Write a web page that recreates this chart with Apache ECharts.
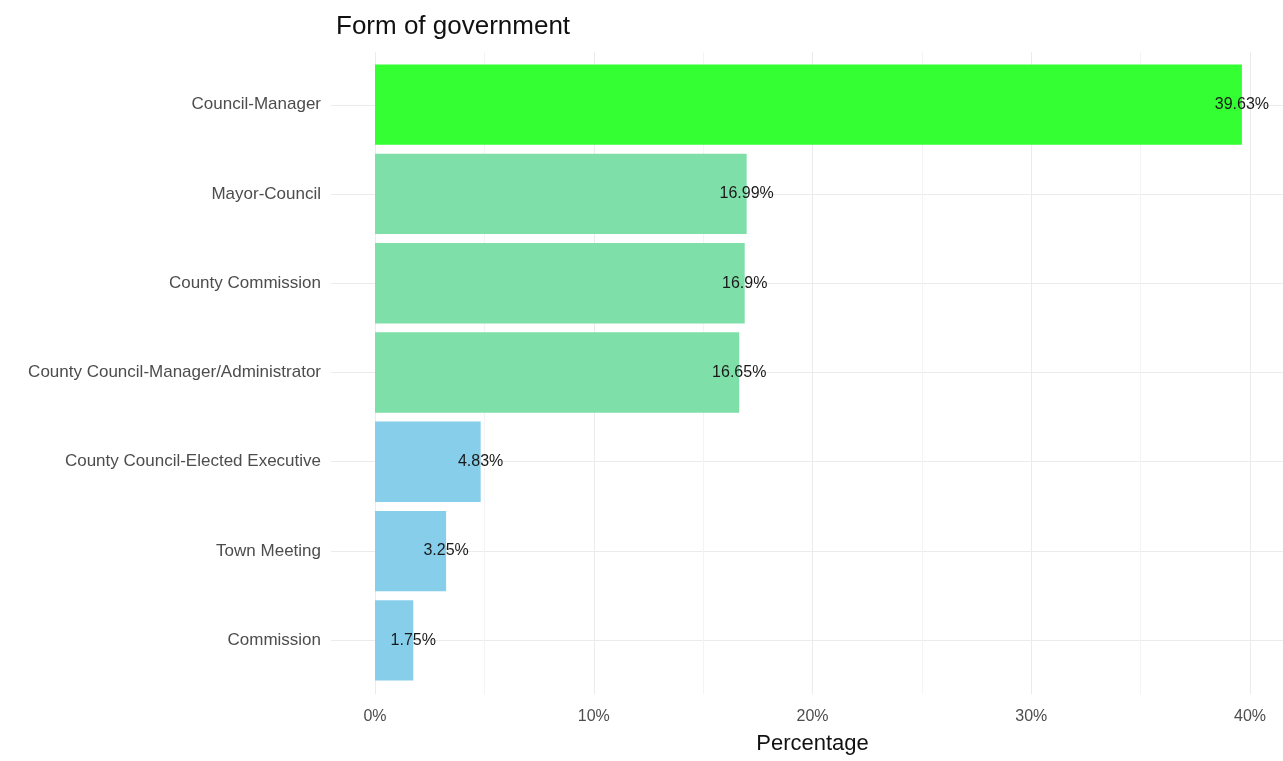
<!DOCTYPE html>
<html>
<head>
<meta charset="utf-8">
<title>Form of government</title>
<script src="https://cdn.jsdelivr.net/npm/echarts@6/dist/echarts.min.js"></script>
<style>
  html, body { margin: 0; padding: 0; background: #fff; }
  #chart { width: 1283px; height: 761px; }
</style>
</head>
<body>
<div id="chart"></div>
<script>
// categories listed bottom to top (echarts category y axis starts at the bottom)
const categories = [
  "Commission",
  "Town Meeting",
  "County Council-Elected Executive",
  "County Council-Manager/Administrator",
  "County Commission",
  "Mayor-Council",
  "Council-Manager",
];
const percentages = [1.75, 3.25, 4.83, 16.65, 16.9, 16.99, 39.63];
const barColors = ["#87CEEB", "#87CEEB", "#87CEEB", "#7EDFA9", "#7EDFA9", "#7EDFA9", "#33FF33"];
const xTicks = [0, 10, 20, 30, 40];

const font = "Liberation Sans, Arial, sans-serif";

const chart = echarts.init(document.getElementById("chart"));

const option = {
  backgroundColor: "#ffffff",
  animation: false,
  title: {
    text: "Form of government",
    left: 331,
    top: 9,
    textStyle: { fontFamily: font, fontSize: 26, fontWeight: "normal", color: "#111" },
  },
  grid: [
    // horizontal grid lines, panel wide
    { left: 331, right: 0, top: 105, bottom: 121 },
    // vertical grid lines + x labels, full panel height
    { left: 375, right: 33, top: 52, bottom: 67 },
    // bars
    { left: 375, right: 33, top: 60, bottom: 76 },
  ],
  xAxis: [
    { gridIndex: 0, type: "value", show: false },
    {
      gridIndex: 1,
      type: "value",
      min: xTicks[0],
      max: xTicks[xTicks.length - 1],
      interval: 10,
      axisLine: { show: false },
      axisTick: { show: false },
      axisLabel: {
        margin: 15,
        fontFamily: font,
        fontSize: 16,
        color: "#4D4D4D",
        formatter: (v) => v + "%",
      },
      splitLine: { show: true, lineStyle: { color: "#EBEBEB", width: 1 } },
      minorTick: { show: false, splitNumber: 2 },
      minorSplitLine: { show: true, lineStyle: { color: "#F4F4F4", width: 1 } },
      name: "Percentage",
      nameLocation: "middle",
      nameGap: 39,
      nameTextStyle: { fontFamily: font, fontSize: 22, color: "#111" },
    },
    {
      gridIndex: 2,
      type: "value",
      min: xTicks[0],
      max: xTicks[xTicks.length - 1],
      show: false,
    },
  ],
  yAxis: [
    {
      gridIndex: 0,
      type: "value",
      min: 0,
      max: categories.length - 1,
      interval: 1,
      axisLine: { show: false },
      axisTick: { show: false },
      axisLabel: { show: false },
      splitLine: { show: true, lineStyle: { color: "#EBEBEB", width: 1 } },
    },
    {
      gridIndex: 1,
      type: "value",
      show: false,
    },
    {
      gridIndex: 2,
      type: "category",
      data: categories,
      axisLine: { show: false },
      axisTick: { show: false },
      splitLine: { show: false },
      axisLabel: {
        margin: 54,
        fontFamily: font,
        fontSize: 17,
        color: "#4D4D4D",
      },
    },
  ],
  series: [
    {
      type: "bar",
      xAxisIndex: 2,
      yAxisIndex: 2,
      barWidth: "90%",
      data: percentages.map((v, i) => ({ value: v, itemStyle: { color: barColors[i] } })),
      label: {
        show: true,
        position: "right",
        distance: 0,
        align: "center",
        fontFamily: font,
        fontSize: 16,
        color: "#1a1a1a",
        formatter: (p) => p.value + "%",
      },
    },
  ],
};

chart.setOption(option);
</script>
</body>
</html>
